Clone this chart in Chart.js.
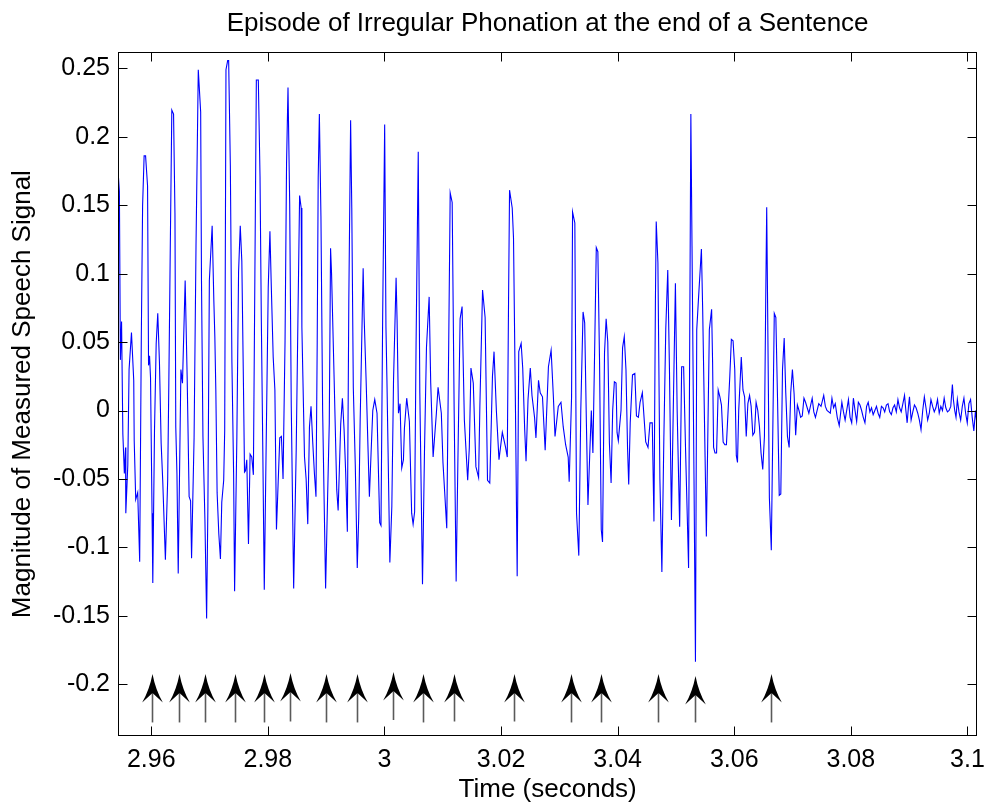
<!DOCTYPE html>
<html>
<head>
<meta charset="utf-8">
<script src="https://cdn.jsdelivr.net/npm/chart.js@4.4.0/dist/chart.umd.min.js"></script>
<style>
  html, body { margin: 0; padding: 0; background: #ffffff; }
  #wrap { width: 994px; height: 805px; }
</style>
</head>
<body>
<div id="wrap"><canvas id="c" width="994" height="805"></canvas></div>
<script>
// ---- data ----
const chartTitle = 'Episode of Irregular Phonation at the end of a Sentence';
const xTitle = 'Time (seconds)';
const yTitle = 'Magnitude of Measured Speech Signal';

// time (s) of each traced point of the speech waveform
const times = [
  2.95428, 2.95454, 2.95471, 2.95491, 2.95513, 2.95539, 2.95559, 2.95564, 2.95598, 2.95620,
  2.95661, 2.95700, 2.95708, 2.95734, 2.95768, 2.95802, 2.95830, 2.95852, 2.95878, 2.95903,
  2.95937, 2.95954, 2.95971, 2.95988, 2.96014, 2.96027, 2.96056, 2.96085, 2.96112, 2.96141,
  2.96170, 2.96197, 2.96243, 2.96282, 2.96302, 2.96327, 2.96353, 2.96383, 2.96407, 2.96421,
  2.96441, 2.96463, 2.96509, 2.96536, 2.96582, 2.96616, 2.96650, 2.96675, 2.96692, 2.96735,
  2.96768, 2.96807, 2.96848, 2.96862, 2.96887, 2.96921, 2.96950, 2.96972, 2.96997, 2.97045,
  2.97074, 2.97091, 2.97108, 2.97130, 2.97159, 2.97187, 2.97210, 2.97243, 2.97260, 2.97282,
  2.97311, 2.97328, 2.97357, 2.97384, 2.97413, 2.97430, 2.97469, 2.97498, 2.97527, 2.97554,
  2.97583, 2.97600, 2.97617, 2.97639, 2.97668, 2.97696, 2.97724, 2.97752, 2.97778, 2.97803,
  2.97837, 2.97866, 2.97888, 2.97914, 2.97939, 2.97973, 2.98007, 2.98036, 2.98058, 2.98092,
  2.98121, 2.98148, 2.98205, 2.98233, 2.98261, 2.98295, 2.98321, 2.98346, 2.98375, 2.98402,
  2.98443, 2.98487, 2.98516, 2.98545, 2.98572, 2.98584, 2.98601, 2.98629, 2.98657, 2.98685,
  2.98714, 2.98741, 2.98770, 2.98799, 2.98826, 2.98847, 2.98864, 2.98884, 2.98911, 2.98940,
  2.98991, 2.99025, 2.99054, 2.99076, 2.99093, 2.99138, 2.99182, 2.99206, 2.99250, 2.99279,
  2.99308, 2.99335, 2.99364, 2.99389, 2.99420, 2.99440, 2.99466, 2.99500, 2.99534, 2.99559,
  2.99584, 2.99635, 2.99652, 2.99686, 2.99720, 2.99742, 2.99771, 2.99800, 2.99834, 2.99873,
  2.99919, 2.99941, 2.99970, 3.00004, 3.00026, 3.00043, 3.00093, 3.00127, 3.00156, 3.00200,
  3.00217, 3.00241, 3.00268, 3.00297, 3.00326, 3.00343, 3.00382, 3.00428, 3.00467, 3.00492,
  3.00518, 3.00543, 3.00580, 3.00607, 3.00653, 3.00687, 3.00721, 3.00767, 3.00794, 3.00835,
  3.00891, 3.00920, 3.00976, 3.01004, 3.01049, 3.01069, 3.01103, 3.01128, 3.01162, 3.01196,
  3.01230, 3.01259, 3.01298, 3.01332, 3.01371, 3.01428, 3.01456, 3.01484, 3.01524, 3.01569,
  3.01615, 3.01637, 3.01683, 3.01727, 3.01768, 3.01807, 3.01853, 3.01880, 3.01920, 3.01965,
  3.02022, 3.02078, 3.02107, 3.02129, 3.02146, 3.02192, 3.02214, 3.02248, 3.02277, 3.02304,
  3.02345, 3.02372, 3.02406, 3.02429, 3.02463, 3.02502, 3.02531, 3.02575, 3.02599, 3.02643,
  3.02672, 3.02711, 3.02757, 3.02813, 3.02859, 3.02898, 3.02926, 3.02982, 3.03028, 3.03067,
  3.03108, 3.03152, 3.03169, 3.03210, 3.03227, 3.03266, 3.03295, 3.03334, 3.03368, 3.03407,
  3.03435, 3.03464, 3.03491, 3.03520, 3.03549, 3.03576, 3.03605, 3.03634, 3.03661, 3.03690,
  3.03719, 3.03741, 3.03775, 3.03803, 3.03831, 3.03859, 3.03888, 3.03915, 3.03944, 3.03973,
  3.03990, 3.04012, 3.04058, 3.04085, 3.04114, 3.04143, 3.04170, 3.04190, 3.04216, 3.04255,
  3.04295, 3.04323, 3.04356, 3.04385, 3.04424, 3.04453, 3.04482, 3.04521, 3.04555, 3.04594,
  3.04623, 3.04648, 3.04662, 3.04691, 3.04725, 3.04759, 3.04793, 3.04826, 3.04860, 3.04889,
  3.04923, 3.04954, 3.04991, 3.05021, 3.05064, 3.05098, 3.05132, 3.05166, 3.05217, 3.05256,
  3.05276, 3.05310, 3.05335, 3.05357, 3.05386, 3.05437, 3.05459, 3.05500, 3.05522, 3.05573,
  3.05612, 3.05629, 3.05646, 3.05670, 3.05697, 3.05725, 3.05754, 3.05781, 3.05810, 3.05839,
  3.05866, 3.05924, 3.05951, 3.05980, 3.06009, 3.06036, 3.06056, 3.06077, 3.06121, 3.06150,
  3.06178, 3.06206, 3.06234, 3.06263, 3.06290, 3.06319, 3.06348, 3.06375, 3.06404, 3.06433,
  3.06460, 3.06489, 3.06518, 3.06540, 3.06557, 3.06603, 3.06636, 3.06687, 3.06714, 3.06743,
  3.06772, 3.06799, 3.06828, 3.06857, 3.06884, 3.06913, 3.06942, 3.06969, 3.06998, 3.07027,
  3.07054, 3.07083, 3.07111, 3.07139, 3.07167, 3.07196, 3.07223, 3.07280, 3.07337, 3.07365,
  3.07393, 3.07450, 3.07489, 3.07535, 3.07563, 3.07591, 3.07648, 3.07676, 3.07704, 3.07733,
  3.07767, 3.07801, 3.07846, 3.07874, 3.07902, 3.07959, 3.07987, 3.08015, 3.08044, 3.08072,
  3.08100, 3.08129, 3.08157, 3.08185, 3.08213, 3.08242, 3.08270, 3.08298, 3.08327, 3.08355,
  3.08383, 3.08412, 3.08440, 3.08468, 3.08496, 3.08525, 3.08553, 3.08581, 3.08610, 3.08638,
  3.08666, 3.08695, 3.08723, 3.08751, 3.08780, 3.08808, 3.08836, 3.08864, 3.08893, 3.08921,
  3.08944, 3.08966, 3.08989, 3.09006, 3.09034, 3.09063, 3.09091, 3.09119, 3.09148, 3.09176,
  3.09204, 3.09233, 3.09261, 3.09289, 3.09318, 3.09346, 3.09374, 3.09403, 3.09431, 3.09459,
  3.09487, 3.09516, 3.09544, 3.09572, 3.09601, 3.09629, 3.09657, 3.09686, 3.09714, 3.09742,
  3.09759, 3.09782, 3.09804, 3.09827, 3.09855, 3.09884, 3.09912, 3.09940, 3.09969, 3.09997,
  3.10025, 3.10054, 3.10082, 3.10110, 3.10138, 3.10155
];

// measured speech signal magnitude at each of the times above
const amps = [
  0.177, 0.160, 0.037, 0.065, -0.017, -0.046, -0.027, -0.075, -0.040, 0.030,
  0.057, 0.022, -0.022, -0.065, -0.060, -0.1105, 0.054, 0.150, 0.186, 0.186,
  0.164, 0.033, 0.040, 0.024, -0.075, -0.126, -0.015, 0.049, 0.071, 0.035,
  -0.024, -0.051, -0.109, -0.051, 0.020, 0.120, 0.2195, 0.2166, 0.144, -0.012,
  -0.046, -0.119, 0.030, 0.020, 0.095, 0.025, -0.063, -0.066, -0.108, -0.020,
  0.120, 0.249, 0.218, 0.095, -0.019, -0.080, -0.152, -0.070, 0.095, 0.135,
  0.080, 0.054, 0.015, -0.060, -0.090, -0.1085, -0.067, -0.051, -0.015, 0.249,
  0.2556, 0.2556, 0.179, 0.035, -0.046, -0.132, -0.019, 0.101, 0.135, 0.109,
  0.015, -0.045, -0.044, -0.036, -0.0975, -0.032, -0.034, -0.047, 0.100, 0.2415,
  0.2415, 0.171, 0.068, -0.030, -0.131, -0.020, 0.090, 0.131, 0.093, 0.039,
  0.015, -0.087, -0.020, -0.019, -0.050, 0.050, 0.180, 0.236, 0.151, 0.003,
  -0.130, -0.028, 0.066, 0.157, 0.148, 0.061, 0.025, -0.034, -0.050, -0.083,
  -0.012, 0.003, -0.023, -0.046, -0.063, 0.050, 0.170, 0.2166, 0.142, 0.000,
  -0.130, -0.064, -0.009, 0.1185, 0.100, 0.022, -0.058, -0.073, -0.010, 0.009,
  -0.014, -0.045, -0.0885, 0.080, 0.212, 0.148, 0.017, -0.040, -0.115, -0.078,
  -0.007, 0.104, 0.068, 0.022, -0.030, -0.063, -0.031, 0.000, 0.008, -0.002,
  -0.082, -0.084, 0.070, 0.209, 0.061, 0.022, -0.111, -0.070, 0.022, 0.097,
  0.066, -0.002, 0.005, -0.042, -0.036, -0.013, 0.009, -0.008, -0.075, -0.083,
  -0.074, 0.050, 0.189, 0.013, -0.127, -0.030, 0.046, 0.083, 0.020, -0.034,
  -0.002, 0.017, -0.002, -0.038, -0.071, -0.086, 0.050, 0.159, 0.152, 0.000,
  -0.125, -0.040, 0.067, 0.076, -0.007, -0.051, -0.027, 0.031, 0.020, -0.041,
  -0.049, 0.003, 0.088, 0.068, -0.051, -0.053, 0.025, 0.043, 0.000, -0.036,
  -0.016, -0.027, -0.034, 0.080, 0.161, 0.148, 0.126, 0.000, -0.121, 0.043,
  0.049, 0.031, -0.014, -0.037, 0.008, 0.031, 0.011, -0.005, -0.020, 0.022,
  0.013, 0.010, -0.029, 0.032, 0.044, 0.010, -0.019, 0.003, 0.006, -0.012,
  -0.025, -0.034, -0.052, 0.010, 0.145, 0.137, -0.075, -0.106, 0.000, 0.072,
  0.064, -0.009, -0.069, -0.034, 0.000, -0.031, 0.042, 0.119, 0.116, 0.035,
  -0.087, -0.096, 0.042, 0.067, 0.050, -0.024, -0.053, 0.000, 0.021, 0.020,
  -0.016, -0.022, 0.000, 0.046, 0.054, 0.030, -0.027, -0.054, -0.009, 0.026,
  0.027, -0.004, -0.005, 0.006, 0.013, -0.005, -0.023, -0.027, -0.009, -0.009,
  -0.081, 0.080, 0.138, 0.108, -0.050, -0.118, -0.020, 0.060, 0.1026, 0.030,
  -0.080, 0.000, 0.093, 0.000, -0.085, 0.032, 0.032, -0.030, -0.115, 0.2166,
  0.120, -0.050, -0.1835, 0.059, 0.081, 0.118, 0.073, -0.034, -0.092, 0.059,
  0.074, 0.035, -0.027, -0.031, -0.031, 0.015, 0.010, 0.004, -0.023, -0.025,
  -0.025, 0.025, 0.052, 0.051, 0.030, -0.033, -0.038, 0.000, 0.039, 0.015,
  0.010, -0.019, 0.005, 0.011, 0.003, -0.018, -0.016, 0.006, 0.000, -0.012,
  -0.031, -0.043, -0.019, 0.080, 0.1485, -0.064, -0.102, 0.071, 0.068, 0.008,
  -0.062, -0.061, 0.030, 0.053, 0.013, -0.019, -0.027, 0.013, 0.030, 0.012,
  -0.018, 0.004, 0.000, -0.005, -0.004, 0.009, 0.006, -0.002, 0.009, -0.001,
  -0.005, 0.005, 0.003, 0.011, 0.003, 0.000, -0.002, 0.009, 0.002, 0.005,
  -0.005, -0.011, 0.006, -0.001, -0.007, 0.008, -0.005, -0.009, 0.009, 0.000,
  -0.008, 0.006, 0.004, 0.000, -0.005, -0.009, 0.003, 0.006, -0.001, 0.002,
  -0.003, 0.000, 0.003, -0.002, -0.005, 0.003, 0.002, -0.001, 0.004, 0.005,
  -0.001, -0.003, 0.002, 0.004, -0.001, 0.008, 0.002, -0.001, 0.005, 0.011,
  0.000, -0.009, 0.003, 0.010, -0.007, -0.001, 0.004, 0.002, -0.002, -0.007,
  -0.014, 0.000, 0.010, 0.002, -0.007, -0.002, 0.008, 0.003, -0.001, 0.002,
  0.008, -0.002, 0.003, 0.000, 0.009, 0.002, -0.001, 0.000, 0.003, 0.019,
  0.008, 0.000, -0.005, 0.008, -0.001, -0.007, 0.003, 0.009, -0.002, -0.009,
  0.005, 0.008, -0.005, -0.015, 0.000, -0.007
];

// glottal-pulse marker arrows: time, tip height, tail height
const arrowTimes = [2.96005, 2.96480, 2.96921, 2.97430, 2.97939, 2.98380, 2.98991, 2.99534, 3.00145,
                    3.00653, 3.01196, 3.02214, 3.03198, 3.03707, 3.04691, 3.05335, 3.06624];
const arrowTips  = [-0.1925, -0.1925, -0.1925, -0.1925, -0.1925, -0.1918, -0.1925, -0.1925, -0.1911,
                    -0.1925, -0.1925, -0.1925, -0.1925, -0.1925, -0.1925, -0.1940, -0.1925];
const arrowTails = [-0.2279, -0.2279, -0.2279, -0.2279, -0.2279, -0.2272, -0.2279, -0.2279, -0.2261,
                    -0.2279, -0.2272, -0.2272, -0.2279, -0.2279, -0.2279, -0.2279, -0.2279];

// axis ranges and tick spacing
const xRange = [2.9543, 3.1017];
const yRange = [-0.2378, 0.2617];
const xStep = 0.02;
const yStep = 0.05;

// ---- drawing ----
const FONT = '"Liberation Sans", Arial, Helvetica, sans-serif';
const fmt = v => String(Number(v.toFixed(2)));

const framePlugin = {
  id: 'matlabFrame',
  afterDatasetsDraw(chart) {
    const { ctx, scales: { x, y } } = chart;
    ctx.save();
    arrowTimes.forEach((t, i) => {
      const px = Math.round(x.getPixelForValue(t)) + 0.5;
      const tipY = y.getPixelForValue(arrowTips[i]);
      const tailY = y.getPixelForValue(arrowTails[i]);
      const headLen = 28.5, notch = 19, half = 10.3;
      ctx.strokeStyle = '#5a5a5a';
      ctx.lineWidth = 1.6;
      ctx.beginPath();
      ctx.moveTo(px, tipY + notch);
      ctx.lineTo(px, tailY);
      ctx.stroke();
      ctx.fillStyle = '#000000';
      ctx.beginPath();
      ctx.moveTo(px, tipY);
      ctx.quadraticCurveTo(px + 3, tipY + headLen * 0.55, px + half, tipY + headLen);
      ctx.lineTo(px, tipY + notch);
      ctx.lineTo(px - half, tipY + headLen);
      ctx.quadraticCurveTo(px - 3, tipY + headLen * 0.55, px, tipY);
      ctx.closePath();
      ctx.fill();
    });
    ctx.restore();
  },
  afterDraw(chart) {
    const { ctx, chartArea: a, scales: { x, y } } = chart;
    ctx.save();
    ctx.strokeStyle = '#000000';
    ctx.lineWidth = 1;
    const L = Math.round(a.left) + 0.5, R = Math.round(a.right) - 0.5;
    const T = Math.round(a.top) + 0.5, B = Math.round(a.bottom) - 0.5;
    ctx.strokeRect(L, T, R - L, B - T);
    const tl = 9;
    ctx.beginPath();
    x.ticks.forEach(tk => {
      const px = Math.round(x.getPixelForValue(tk.value)) + 0.5;
      ctx.moveTo(px, B); ctx.lineTo(px, B - tl);
      ctx.moveTo(px, T); ctx.lineTo(px, T + tl);
    });
    y.ticks.forEach(tk => {
      const py = Math.round(y.getPixelForValue(tk.value)) + 0.5;
      ctx.moveTo(L, py); ctx.lineTo(L + tl, py);
      ctx.moveTo(R, py); ctx.lineTo(R - tl, py);
    });
    ctx.stroke();
    ctx.restore();
  }
};

new Chart(document.getElementById('c'), {
  type: 'line',
  data: {
    datasets: [{
      data: times.map((t, i) => ({ x: t, y: amps[i] })),
      borderColor: '#0000ff',
      borderWidth: 1.1,
      pointRadius: 0,
      pointHoverRadius: 0,
      tension: 0,
      fill: false
    }]
  },
  options: {
    responsive: false,
    animation: false,
    events: [],
    layout: { padding: { left: 0, right: 7.3, top: 0, bottom: 0 } },
    plugins: {
      legend: { display: false },
      tooltip: { enabled: false },
      title: {
        display: true,
        text: chartTitle,
        fullSize: false,
        color: '#000000',
        font: { family: FONT, size: 26, weight: 'normal', lineHeight: 1.2 },
        padding: { top: 8.4, bottom: 12.7 }
      }
    },
    scales: {
      x: {
        type: 'linear',
        position: 'bottom',
        min: xRange[0],
        max: xRange[1],
        grid: { display: false, drawTicks: false },
        border: { display: false },
        ticks: {
          stepSize: xStep,
          includeBounds: false,
          autoSkip: false,
          maxRotation: 0,
          padding: 9,
          color: '#000000',
          font: { family: FONT, size: 25 },
          callback: v => fmt(v)
        },
        title: {
          display: true,
          text: xTitle,
          color: '#000000',
          font: { family: FONT, size: 26, lineHeight: 1.2 },
          padding: { top: 0, bottom: 0 }
        },
        afterFit: s => { s.height = 69; }
      },
      y: {
        type: 'linear',
        position: 'left',
        min: yRange[0],
        max: yRange[1],
        grid: { display: false, drawTicks: false },
        border: { display: false },
        ticks: {
          stepSize: yStep,
          includeBounds: false,
          autoSkip: false,
          padding: 8,
          color: '#000000',
          font: { family: FONT, size: 25 },
          callback: v => fmt(v)
        },
        title: {
          display: true,
          text: yTitle,
          color: '#000000',
          font: { family: FONT, size: 26, lineHeight: 1.2 },
          padding: { top: 7, bottom: 0 }
        },
        afterFit: s => { s.width = 118; }
      }
    }
  },
  plugins: [framePlugin]
});
</script>
</body>
</html>
